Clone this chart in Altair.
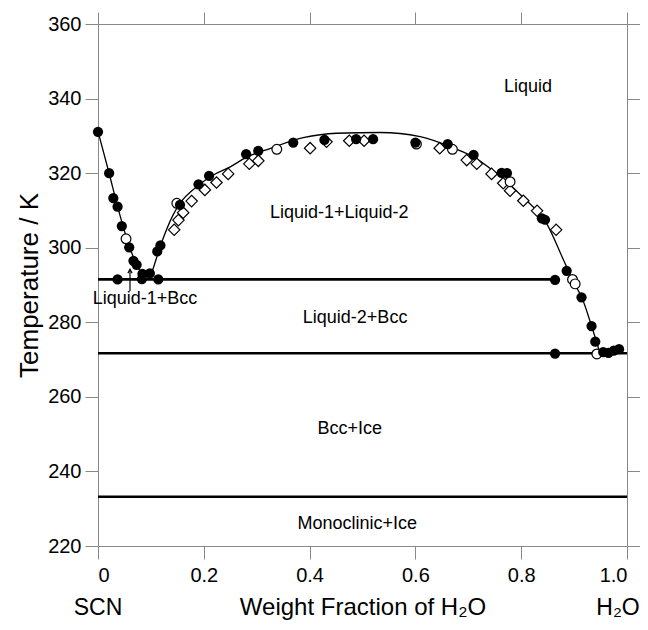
import altair as alt
import pandas as pd

# ---------------- data ----------------
filled_w = [0.0, 0.021, 0.029, 0.037, 0.045, 0.059, 0.067, 0.073, 0.084, 0.083, 0.098, 0.037, 0.114,
            0.112, 0.118, 0.155, 0.190, 0.210, 0.280, 0.303, 0.369, 0.428, 0.488, 0.520, 0.600, 0.661,
            0.710, 0.763, 0.773, 0.839, 0.845, 0.864, 0.886, 0.914, 0.933, 0.940, 0.864, 0.955, 0.965,
            0.975, 0.985]
filled_T = [331.1, 320.0, 313.3, 311.0, 305.8, 300.1, 296.5, 295.4, 293.0, 291.6, 293.1, 291.5, 291.5,
            299.0, 300.6, 311.5, 317.0, 319.3, 325.1, 326.0, 328.2, 328.9, 329.1, 329.1, 328.2, 327.8,
            324.9, 320.1, 320.0, 307.9, 307.5, 291.4, 293.8, 286.7, 279.0, 274.8, 271.6, 272.0, 271.8,
            272.4, 272.8]

open_w = [0.053, 0.149, 0.338, 0.602, 0.670, 0.779, 0.897, 0.902, 0.943]
open_T = [302.4, 311.9, 326.4, 327.8, 326.4, 317.7, 291.5, 290.3, 271.5]

diamond_w = [0.144, 0.152, 0.161, 0.177, 0.202, 0.224, 0.246, 0.286, 0.303, 0.401, 0.432, 0.475, 0.503,
             0.646, 0.697, 0.716, 0.744, 0.766, 0.779, 0.804, 0.830, 0.866]
diamond_T = [304.8, 307.4, 309.4, 312.5, 315.5, 317.5, 319.8, 322.5, 323.3, 326.7, 328.4, 328.7, 328.7,
             326.7, 323.5, 322.5, 319.8, 317.3, 315.3, 312.6, 309.9, 304.8]

liq_w = [0.0, 0.02, 0.04, 0.06, 0.075, 0.089]
liq_T = [331.2, 320.5, 309.5, 300.0, 295.0, 291.5]

dome_w = [0.095, 0.101, 0.117, 0.142, 0.155, 0.187, 0.218, 0.250, 0.281, 0.325, 0.388, 0.451, 0.533,
          0.609, 0.678, 0.703, 0.750, 0.800, 0.850, 0.880, 0.900, 0.915, 0.933, 0.949]
dome_T = [291.5, 293.2, 300.1, 308.8, 311.9, 316.4, 319.5, 321.7, 324.3, 326.6, 329.5, 330.7, 330.9,
          329.8, 326.4, 324.9, 320.3, 314.0, 306.0, 296.7, 290.5, 286.5, 279.0, 271.7]

hline_T = [291.5, 271.7, 233.2]
hline_w0 = [0.0, 0.0, 0.0]
hline_w1 = [0.865, 1.0, 1.0]

label_text = ["Liquid", "Liquid-1+Liquid-2", "Liquid-1+Bcc", "Liquid-2+Bcc", "Bcc+Ice", "Monoclinic+Ice"]
label_w = [0.813, 0.456, 0.089, 0.486, 0.476, 0.490]
label_T = [343.2, 309.3, 286.2, 281.2, 251.4, 226.0]

end_text = ["SCN", "H\u2082O"]
end_w = [0.0, 0.983]
end_T = [203.4, 203.4]

arrow_w = [0.0605]
arrow_T0 = [288.4]
arrow_T1 = [294.2]

# ---------------- frames ----------------
filled = pd.DataFrame({"w": filled_w, "T": filled_T})
opened = pd.DataFrame({"w": open_w, "T": open_T})
diam = pd.DataFrame({"w": diamond_w, "T": diamond_T})
curves = pd.concat([
    pd.DataFrame({"w": liq_w, "T": liq_T, "seg": "liq", "o": range(len(liq_w))}),
    pd.DataFrame({"w": dome_w, "T": dome_T, "seg": "dome", "o": range(len(dome_w))}),
])
hl = pd.DataFrame({"w0": hline_w0, "w1": hline_w1, "T": hline_T})
labels = pd.DataFrame({"t": label_text, "w": label_w, "T": label_T})
ends = pd.DataFrame({"t": end_text, "w": end_w, "T": end_T})
arrow = pd.DataFrame({"w": arrow_w, "T0": arrow_T0, "T1": arrow_T1})

xs = alt.Scale(domain=[0, 1], nice=False, zero=False)
ys = alt.Scale(domain=[220, 360], nice=False, zero=False)

FONT = "Liberation Sans"

x_main = alt.Axis(values=[0, 0.2, 0.4, 0.6, 0.8, 1.0], tickSize=13, labelPadding=6, labelFontSize=20,
                  labelExpr="datum.value == 0 ? '0' : format(datum.value, '.1f')",
                  title="Weight Fraction of H\u2082O", titleFontSize=24, titlePadding=10, grid=False,
                  titleFontWeight="normal")
y_main = alt.Axis(values=list(range(220, 361, 20)), tickSize=13, labelPadding=4, labelFontSize=20,
                  title="Temperature / K", titleFontSize=26, titlePadding=5, grid=False,
                  titleFontWeight="normal")
x_top = alt.Axis(orient="top", values=[0, 0.2, 0.4, 0.6, 0.8, 1.0], tickSize=12, labels=False,
                 title=None, grid=False)
y_right = alt.Axis(orient="right", values=list(range(220, 361, 20)), tickSize=13, labels=False,
                   title=None, grid=False)

hlines = alt.Chart(hl).mark_rule(color="black", strokeWidth=2.6).encode(
    x=alt.X("w0:Q", scale=xs, axis=x_main),
    x2="w1:Q",
    y=alt.Y("T:Q", scale=ys, axis=y_main),
)

frame = alt.Chart(hl).mark_point(opacity=0).encode(
    x=alt.X("w0:Q", scale=xs, axis=x_top),
    y=alt.Y("T:Q", scale=ys, axis=y_right),
)

lines = alt.Chart(curves).mark_line(color="black", strokeWidth=1.3, interpolate="monotone").encode(
    x=alt.X("w:Q", scale=xs, axis=None),
    y=alt.Y("T:Q", scale=ys, axis=None),
    detail="seg:N",
    order="o:Q",
)

diamonds = alt.Chart(diam).mark_point(shape="diamond", size=130, filled=False, color="black",
                                      fill="white", fillOpacity=1, strokeWidth=1.2, opacity=1).encode(
    x=alt.X("w:Q", scale=xs, axis=None),
    y=alt.Y("T:Q", scale=ys, axis=None),
)

opens = alt.Chart(opened).mark_point(shape="circle", size=95, filled=False, color="black",
                                     fill="white", fillOpacity=1, strokeWidth=1.2, opacity=1).encode(
    x=alt.X("w:Q", scale=xs, axis=None),
    y=alt.Y("T:Q", scale=ys, axis=None),
)

fills = alt.Chart(filled).mark_point(shape="circle", size=105, filled=True, color="black",
                                     opacity=1).encode(
    x=alt.X("w:Q", scale=xs, axis=None),
    y=alt.Y("T:Q", scale=ys, axis=None),
)

texts = alt.Chart(labels).mark_text(fontSize=18, font=FONT, color="black").encode(
    x=alt.X("w:Q", scale=xs, axis=None),
    y=alt.Y("T:Q", scale=ys, axis=None),
    text="t:N",
)

end_texts = alt.Chart(ends).mark_text(fontSize=23, font=FONT, color="black").encode(
    x=alt.X("w:Q", scale=xs, axis=None),
    y=alt.Y("T:Q", scale=ys, axis=None),
    text="t:N",
)

arrow_stem = alt.Chart(arrow).mark_rule(color="black", strokeWidth=1.2).encode(
    x=alt.X("w:Q", scale=xs, axis=None),
    y=alt.Y("T0:Q", scale=ys, axis=None),
    y2="T1:Q",
)
arrow_head = alt.Chart(arrow).mark_point(shape="M-0.5,0.9L0,0L0.5,0.9", size=70, filled=False,
                                         color="black", strokeWidth=1.2, opacity=1).encode(
    x=alt.X("w:Q", scale=xs, axis=None),
    y=alt.Y("T1:Q", scale=ys, axis=None),
)

chart = alt.layer(
    hlines, frame, lines, diamonds, opens, fills, texts, end_texts, arrow_stem, arrow_head
).resolve_axis(x="independent", y="independent").properties(
    width=529, height=522,
    autosize=alt.AutoSizeParams(type="none"),
    padding={"left": 90, "top": 16, "right": 13, "bottom": 76},
).configure_view(stroke=None).configure_axis(
    domainColor="black", domainWidth=1.5, tickColor="black", tickWidth=1.5,
    labelColor="black", titleColor="black", labelFont=FONT, titleFont=FONT,
).configure(font=FONT, background="white")

chart.save("out.html", embed_options={"renderer": "svg", "actions": False})
